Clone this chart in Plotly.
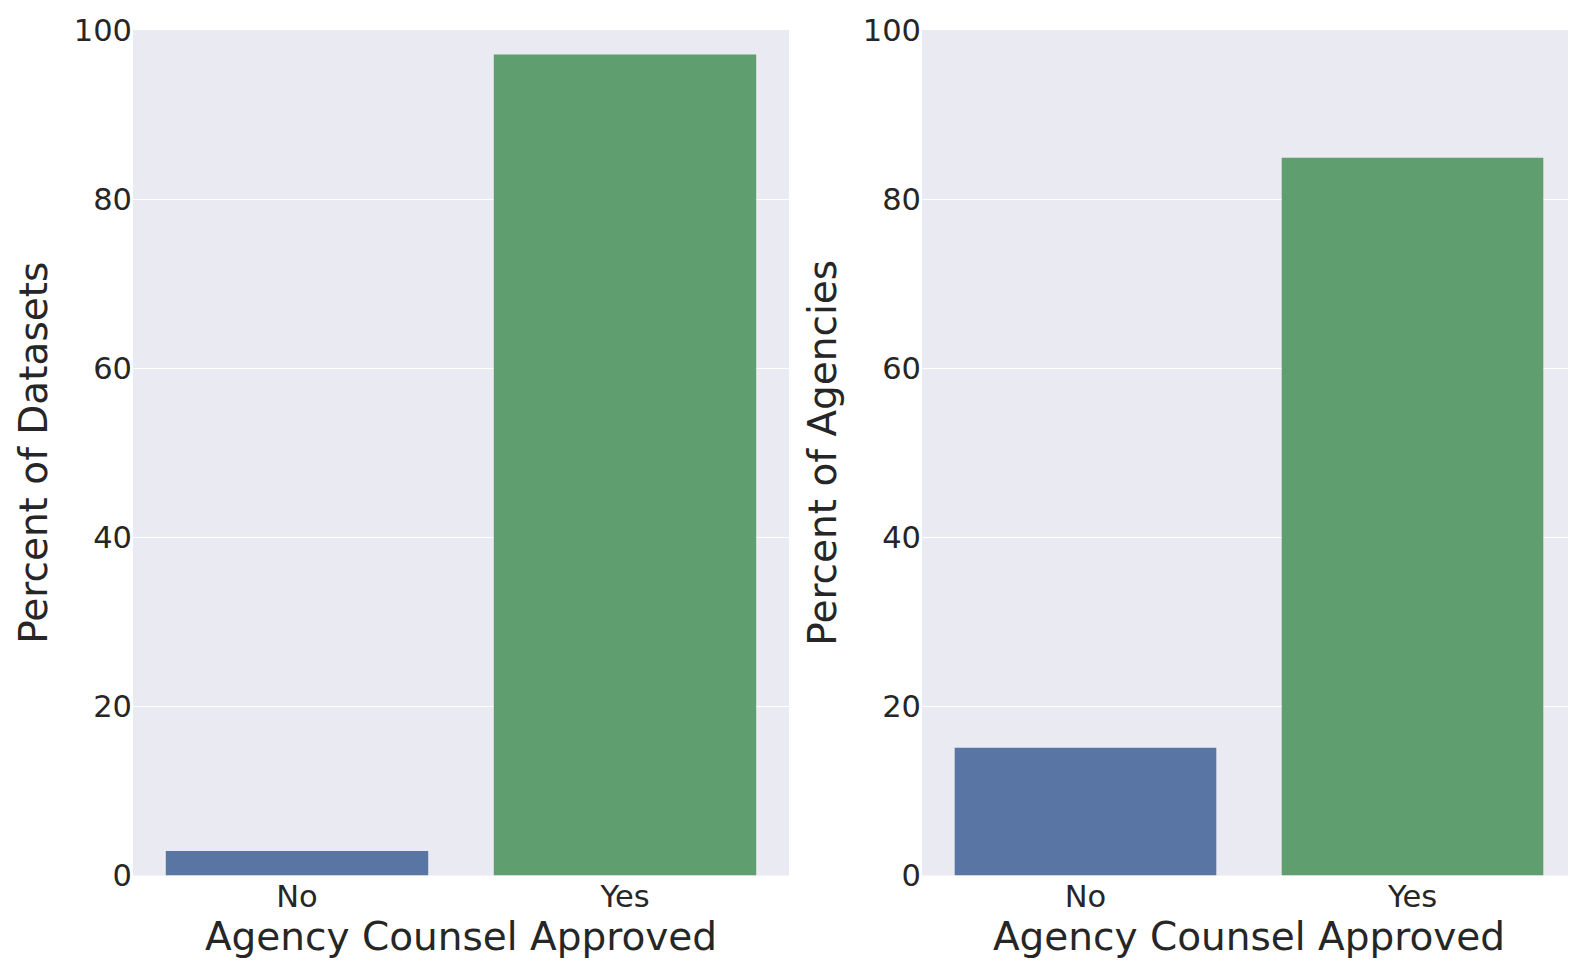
import plotly.graph_objects as go

categories = ["No", "Yes"]
pct_datasets = [2.9, 97.1]
pct_agencies = [15.1, 84.9]
bar_colors = ["#5975a4", "#5f9e6e"]
y_ticks = [0, 20, 40, 60, 80, 100]
x_title = "Agency Counsel Approved"
y_titles = ["Percent of Datasets", "Percent of Agencies"]

W, H = 1576, 966
OFF = 8  # page body margin
font = "DejaVu Sans"
txt = "#262626"

fig = go.Figure()
fig.add_trace(go.Bar(x=categories, y=pct_datasets, marker=dict(color=bar_colors, line=dict(width=0)),
                     width=0.8, xaxis="x", yaxis="y", showlegend=False))
fig.add_trace(go.Bar(x=categories, y=pct_agencies, marker=dict(color=bar_colors, line=dict(width=0)),
                     width=0.8, xaxis="x2", yaxis="y2", showlegend=False))

ydom = [1 - (875.5 - OFF) / H, 1 - (30 - OFF) / H]
doms = [[(133 - OFF) / W, (789 - OFF) / W], [(922 - OFF) / W, (1576 - OFF) / W]]

common_x = dict(range=[-0.5, 1.5], showgrid=False, zeroline=False, showline=False, ticks="",
                tickfont=dict(family=font, size=30.5, color=txt), automargin=False,
                title=dict(text=x_title, font=dict(family=font, size=39, color=txt), standoff=2))
common_y = dict(range=[0, 100], tickvals=y_ticks, showgrid=True, gridcolor="white", gridwidth=1.3,
                zeroline=False, showline=False, ticks="", automargin=False,
                tickfont=dict(family=font, size=30.5, color=txt))

layout = dict(
    width=W, height=H, margin=dict(l=0, r=0, t=0, b=0),
    paper_bgcolor="white", plot_bgcolor="#eaeaf2", bargap=0.2,
    xaxis=dict(domain=doms[0], anchor="y", **common_x),
    xaxis2=dict(domain=doms[1], anchor="y2", **common_x),
    yaxis=dict(domain=ydom, anchor="x", title=dict(text=y_titles[0], font=dict(family=font, size=39, color=txt), standoff=14), **common_y),
    yaxis2=dict(domain=ydom, anchor="x2", title=dict(text=y_titles[1], font=dict(family=font, size=39, color=txt), standoff=14), **common_y),
)
fig.update_layout(**layout)
fig.write_html("out.html")
